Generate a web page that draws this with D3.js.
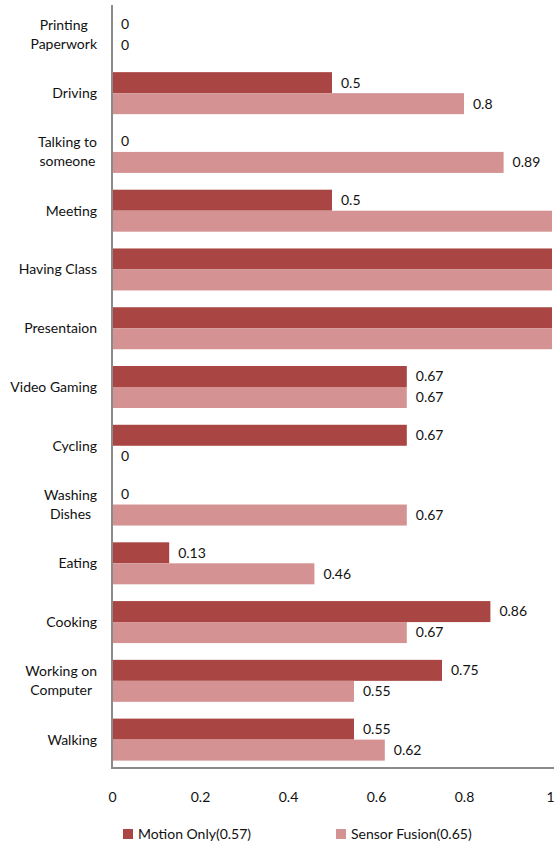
<!DOCTYPE html>
<html>
<head>
<meta charset="utf-8">
<script src="https://cdn.jsdelivr.net/npm/d3@7"></script>
<style>
  html, body { margin: 0; padding: 0; background: #fff; }
  svg { display: block; font-family: "Lato", "Open Sans", sans-serif; }
</style>
</head>
<body>
<svg id="chart" width="554" height="844"></svg>
<script>
// Activity recognition accuracy per activity, top to bottom
const categories = [
  "Printing\nPaperwork", "Driving", "Talking to\nsomeone", "Meeting",
  "Having Class", "Presentaion", "Video Gaming", "Cycling",
  "Washing\nDishes", "Eating", "Cooking", "Working on\nComputer", "Walking"
];
const motionOnly   = [0, 0.5, 0, 0.5, 1, 1, 0.67, 0.67, 0, 0.13, 0.86, 0.75, 0.55];
const sensorFusion = [0, 0.8, 0.89, 1, 1, 1, 0.67, 0, 0.67, 0.46, 0.67, 0.55, 0.62];
const seriesNames  = ["Motion Only(0.57)", "Sensor Fusion(0.65)"];
const xTicks       = [0, 0.2, 0.4, 0.6, 0.8, 1];

const colors = ["#a94644", "#d49292"];
const fontSize = 14;
const svg = d3.select("#chart");

const x = d3.scaleLinear().domain([0, 1]).range([112, 552]);
const y = d3.scaleBand().domain(d3.range(categories.length)).range([5, 769]).padding(0);
const barH = 21;
const sub = d3.scaleBand().domain([0, 1])
  .range([y.bandwidth() / 2 - barH, y.bandwidth() / 2 + barH]);

const series = [motionOnly, sensorFusion];

// bars
series.forEach((vals, s) => {
  svg.append("g").selectAll("rect")
    .data(vals)
    .join("rect")
    .attr("x", x(0))
    .attr("y", (d, i) => y(i) + sub(s))
    .attr("width", d => x(d) - x(0))
    .attr("height", sub.bandwidth())
    .attr("fill", colors[s]);
});

// value labels (omitted where the bar already fills the scale)
series.forEach((vals, s) => {
  svg.append("g").selectAll("text")
    .data(vals.map((v, i) => ({ v, i })).filter(d => d.v < 1))
    .join("text")
    .attr("x", d => x(d.v) + 9)
    .attr("y", d => y(d.i) + sub(s) + sub.bandwidth() / 2)
    .attr("dy", "0.35em")
    .attr("font-size", fontSize)
    .attr("fill", "#111")
    .text(d => d.v);
});

// category axis line
svg.append("line")
  .attr("x1", x(0)).attr("x2", x(0))
  .attr("y1", 5).attr("y2", 769)
  .attr("stroke", "#8a8a8a").attr("stroke-width", 2);
// value axis line
svg.append("line")
  .attr("x1", x(0) - 1).attr("x2", x(1) + 2)
  .attr("y1", 768).attr("y2", 768)
  .attr("stroke", "#8a8a8a").attr("stroke-width", 2);

// category labels: each block right-aligned, lines centred within the block
const labelRight = 97;
categories.forEach((c, i) => {
  const lines = c.split("\n");
  const g = svg.append("g");
  const cy = y(i) + y.bandwidth() / 2;
  const lh = 19;
  const texts = lines.map((ln, k) => g.append("text")
    .attr("y", cy + (k - (lines.length - 1) / 2) * lh)
    .attr("dy", "0.35em")
    .attr("font-size", fontSize)
    .attr("fill", "#111")
    .attr("text-anchor", "middle")
    .text(ln));
  const w = d3.max(texts, t => t.node().getComputedTextLength());
  texts.forEach(t => t.attr("x", labelRight - w / 2));
});

// tick labels
const xAxis = d3.axisBottom(x).tickValues(xTicks).tickSize(0).tickPadding(0)
  .tickFormat(d => d);
const ax = svg.append("g").attr("transform", "translate(0,792)").call(xAxis);
ax.select(".domain").remove();
ax.selectAll("text").attr("font-size", fontSize).attr("fill", "#111")
  .attr("font-family", "Lato, 'Open Sans', sans-serif");
// keep the last label inside the frame
ax.selectAll(".tick").filter(d => d === 1).select("text")
  .attr("text-anchor", "end").attr("x", 2);

// legend
const legendX = [123, 336];
seriesNames.forEach((n, s) => {
  svg.append("rect")
    .attr("x", legendX[s]).attr("y", 829)
    .attr("width", 10).attr("height", 10)
    .attr("fill", colors[s]);
  svg.append("text")
    .attr("x", legendX[s] + 15).attr("y", 834)
    .attr("dy", "0.35em")
    .attr("font-size", fontSize)
    .attr("fill", "#111")
    .text(n);
});
</script>
</body>
</html>
